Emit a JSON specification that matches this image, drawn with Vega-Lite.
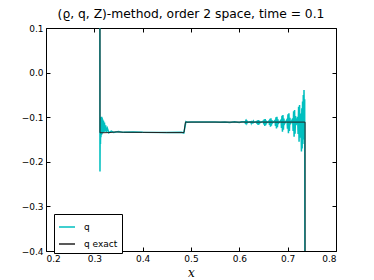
{
  "$schema": "https://vega.github.io/schema/vega-lite/v6.json",
  "width": 290,
  "height": 223,
  "autosize": {"type": "none"},
  "padding": {"left": 46, "top": 28, "right": 38, "bottom": 29},
  "title": {"text": "(ϱ, q, Z)-method, order 2 space, time = 0.1", "font": "DejaVu Sans", "fontSize": 12.3, "fontWeight": "normal", "color": "black", "offset": 4, "anchor": "middle"},
  "config": {
    "view": {"stroke": "black", "strokeWidth": 1},
    "axis": {"domain": false, "grid": false, "tickColor": "black", "tickSize": -4, "labelFont": "DejaVu Sans", "labelFontSize": 9, "labelColor": "black", "titleFont": "DejaVu Serif", "titleFontStyle": "italic", "titleFontWeight": "normal", "titleFontSize": 12, "titleColor": "black"}
  },
  "datasets": {
    "q": [
      {"x": 0.3110, "y": 0.5, "s": "q"},
      {"x": 0.3117, "y": -0.222, "s": "q"},
      {"x": 0.3122, "y": -0.100, "s": "q"},
      {"x": 0.3127, "y": -0.160, "s": "q"},
      {"x": 0.3132, "y": -0.102, "s": "q"},
      {"x": 0.3137, "y": -0.145, "s": "q"},
      {"x": 0.3142, "y": -0.103, "s": "q"},
      {"x": 0.3147, "y": -0.140, "s": "q"},
      {"x": 0.3152, "y": -0.099, "s": "q"},
      {"x": 0.3157, "y": -0.138, "s": "q"},
      {"x": 0.3162, "y": -0.101, "s": "q"},
      {"x": 0.3168, "y": -0.136, "s": "q"},
      {"x": 0.3175, "y": -0.105, "s": "q"},
      {"x": 0.3183, "y": -0.135, "s": "q"},
      {"x": 0.3190, "y": -0.108, "s": "q"},
      {"x": 0.3200, "y": -0.133, "s": "q"},
      {"x": 0.3210, "y": -0.112, "s": "q"},
      {"x": 0.3220, "y": -0.132, "s": "q"},
      {"x": 0.3235, "y": -0.118, "s": "q"},
      {"x": 0.3250, "y": -0.133, "s": "q"},
      {"x": 0.3270, "y": -0.125, "s": "q"},
      {"x": 0.3300, "y": -0.135, "s": "q"},
      {"x": 0.3350, "y": -0.131, "s": "q"},
      {"x": 0.3400, "y": -0.134, "s": "q"},
      {"x": 0.3500, "y": -0.132, "s": "q"},
      {"x": 0.3600, "y": -0.134, "s": "q"},
      {"x": 0.3800, "y": -0.133, "s": "q"},
      {"x": 0.4000, "y": -0.134, "s": "q"},
      {"x": 0.4500, "y": -0.1345, "s": "q"},
      {"x": 0.4800, "y": -0.134, "s": "q"},
      {"x": 0.4850, "y": -0.1355, "s": "q"},
      {"x": 0.4875, "y": -0.122, "s": "q"},
      {"x": 0.4895, "y": -0.110, "s": "q"},
      {"x": 0.4920, "y": -0.1115, "s": "q"},
      {"x": 0.5000, "y": -0.111, "s": "q"},
      {"x": 0.5400, "y": -0.111, "s": "q"},
      {"x": 0.5500, "y": -0.1105, "s": "q"},
      {"x": 0.5600, "y": -0.1115, "s": "q"},
      {"x": 0.5700, "y": -0.1105, "s": "q"},
      {"x": 0.5800, "y": -0.1117, "s": "q"},
      {"x": 0.5900, "y": -0.1103, "s": "q"},
      {"x": 0.6000, "y": -0.1118, "s": "q"},
      {"x": 0.6050, "y": -0.1102, "s": "q"},
      {"x": 0.6110, "y": -0.1104, "s": "q"},
      {"x": 0.6120, "y": -0.1122, "s": "q"},
      {"x": 0.6130, "y": -0.1092, "s": "q"},
      {"x": 0.6140, "y": -0.1130, "s": "q"},
      {"x": 0.6150, "y": -0.1090, "s": "q"},
      {"x": 0.6160, "y": -0.1126, "s": "q"},
      {"x": 0.6170, "y": -0.1100, "s": "q"},
      {"x": 0.6180, "y": -0.1114, "s": "q"},
      {"x": 0.6235, "y": -0.1101, "s": "q"},
      {"x": 0.6245, "y": -0.1131, "s": "q"},
      {"x": 0.6255, "y": -0.1083, "s": "q"},
      {"x": 0.6265, "y": -0.1145, "s": "q"},
      {"x": 0.6275, "y": -0.1080, "s": "q"},
      {"x": 0.6285, "y": -0.1138, "s": "q"},
      {"x": 0.6295, "y": -0.1095, "s": "q"},
      {"x": 0.6305, "y": -0.1117, "s": "q"},
      {"x": 0.6358, "y": -0.1096, "s": "q"},
      {"x": 0.6368, "y": -0.1149, "s": "q"},
      {"x": 0.6378, "y": -0.1068, "s": "q"},
      {"x": 0.6388, "y": -0.1175, "s": "q"},
      {"x": 0.6398, "y": -0.1063, "s": "q"},
      {"x": 0.6408, "y": -0.1162, "s": "q"},
      {"x": 0.6418, "y": -0.1087, "s": "q"},
      {"x": 0.6428, "y": -0.1123, "s": "q"},
      {"x": 0.6496, "y": -0.1089, "s": "q"},
      {"x": 0.6506, "y": -0.1162, "s": "q"},
      {"x": 0.6516, "y": -0.1047, "s": "q"},
      {"x": 0.6526, "y": -0.1197, "s": "q"},
      {"x": 0.6536, "y": -0.1040, "s": "q"},
      {"x": 0.6546, "y": -0.1180, "s": "q"},
      {"x": 0.6556, "y": -0.1075, "s": "q"},
      {"x": 0.6566, "y": -0.1127, "s": "q"},
      {"x": 0.6614, "y": -0.1085, "s": "q"},
      {"x": 0.6624, "y": -0.1172, "s": "q"},
      {"x": 0.6634, "y": -0.1034, "s": "q"},
      {"x": 0.6644, "y": -0.1213, "s": "q"},
      {"x": 0.6654, "y": -0.1025, "s": "q"},
      {"x": 0.6664, "y": -0.1192, "s": "q"},
      {"x": 0.6674, "y": -0.1068, "s": "q"},
      {"x": 0.6684, "y": -0.1131, "s": "q"},
      {"x": 0.6738, "y": -0.1073, "s": "q"},
      {"x": 0.6748, "y": -0.1194, "s": "q"},
      {"x": 0.6758, "y": -0.1000, "s": "q"},
      {"x": 0.6768, "y": -0.1250, "s": "q"},
      {"x": 0.6778, "y": -0.0988, "s": "q"},
      {"x": 0.6788, "y": -0.1222, "s": "q"},
      {"x": 0.6798, "y": -0.1049, "s": "q"},
      {"x": 0.6808, "y": -0.1138, "s": "q"},
      {"x": 0.6862, "y": -0.1062, "s": "q"},
      {"x": 0.6872, "y": -0.1239, "s": "q"},
      {"x": 0.6882, "y": -0.0966, "s": "q"},
      {"x": 0.6892, "y": -0.1325, "s": "q"},
      {"x": 0.6902, "y": -0.0950, "s": "q"},
      {"x": 0.6912, "y": -0.1282, "s": "q"},
      {"x": 0.6922, "y": -0.1030, "s": "q"},
      {"x": 0.6932, "y": -0.1153, "s": "q"},
      {"x": 0.6986, "y": -0.1051, "s": "q"},
      {"x": 0.6996, "y": -0.1260, "s": "q"},
      {"x": 0.7006, "y": -0.0933, "s": "q"},
      {"x": 0.7016, "y": -0.1360, "s": "q"},
      {"x": 0.7026, "y": -0.0913, "s": "q"},
      {"x": 0.7036, "y": -0.1310, "s": "q"},
      {"x": 0.7046, "y": -0.1012, "s": "q"},
      {"x": 0.7056, "y": -0.1160, "s": "q"},
      {"x": 0.7103, "y": -0.1029, "s": "q"},
      {"x": 0.7113, "y": -0.1306, "s": "q"},
      {"x": 0.7123, "y": -0.0866, "s": "q"},
      {"x": 0.7133, "y": -0.1437, "s": "q"},
      {"x": 0.7143, "y": -0.0839, "s": "q"},
      {"x": 0.7153, "y": -0.1372, "s": "q"},
      {"x": 0.7163, "y": -0.0975, "s": "q"},
      {"x": 0.7173, "y": -0.1175, "s": "q"},
      {"x": 0.7206, "y": -0.0995, "s": "q"},
      {"x": 0.7216, "y": -0.1374, "s": "q"},
      {"x": 0.7226, "y": -0.0764, "s": "q"},
      {"x": 0.7236, "y": -0.1550, "s": "q"},
      {"x": 0.7246, "y": -0.0726, "s": "q"},
      {"x": 0.7256, "y": -0.1462, "s": "q"},
      {"x": 0.7266, "y": -0.0918, "s": "q"},
      {"x": 0.7276, "y": -0.1198, "s": "q"},
      {"x": 0.7285, "y": -0.1770, "s": "q"},
      {"x": 0.7293, "y": -0.0800, "s": "q"},
      {"x": 0.7300, "y": -0.1700, "s": "q"},
      {"x": 0.7308, "y": -0.0650, "s": "q"},
      {"x": 0.7315, "y": -0.1600, "s": "q"},
      {"x": 0.7323, "y": -0.0500, "s": "q"},
      {"x": 0.7330, "y": -0.1500, "s": "q"},
      {"x": 0.7338, "y": -0.0390, "s": "q"},
      {"x": 0.7345, "y": -0.1200, "s": "q"},
      {"x": 0.7352, "y": -0.0600, "s": "q"},
      {"x": 0.7358, "y": -0.6, "s": "q"}
    ],
    "exact": [
      {"x": 0.3117, "y": 0.5, "s": "q exact"},
      {"x": 0.3117, "y": -0.135, "s": "q exact"},
      {"x": 0.3300, "y": -0.1345, "s": "q exact"},
      {"x": 0.3450, "y": -0.1330, "s": "q exact"},
      {"x": 0.3600, "y": -0.1337, "s": "q exact"},
      {"x": 0.4000, "y": -0.1340, "s": "q exact"},
      {"x": 0.4500, "y": -0.1345, "s": "q exact"},
      {"x": 0.4855, "y": -0.1345, "s": "q exact"},
      {"x": 0.4885, "y": -0.111, "s": "q exact"},
      {"x": 0.7360, "y": -0.111, "s": "q exact"},
      {"x": 0.7360, "y": -0.6, "s": "q exact"}
    ]
  },
  "layer": [
    {
      "data": {"name": "q"},
      "mark": {"type": "line", "clip": true, "strokeWidth": 1.5},
      "encoding": {
        "x": {"field": "x", "type": "quantitative", "scale": {"domain": [0.2, 0.8], "nice": false, "zero": false}, "axis": {"orient": "bottom", "values": [0.2, 0.3, 0.4, 0.5, 0.6, 0.7, 0.8], "format": ".1f", "title": "x", "labelPadding": 7, "titlePadding": 4}},
        "y": {"field": "y", "type": "quantitative", "scale": {"domain": [-0.4, 0.1], "nice": false, "zero": false}, "axis": {"orient": "left", "values": [-0.4, -0.3, -0.2, -0.1, 0.0, 0.1], "format": ".1f", "title": null, "labelPadding": 7}},
        "order": {"field": "x", "type": "quantitative"},
        "color": {"field": "s", "type": "nominal", "scale": {"domain": ["q", "q exact"], "range": ["#00BFBF", "#222222"]},
          "legend": {"title": null, "orient": "none", "legendX": 8, "legendY": 186, "symbolType": "stroke", "symbolSize": 256, "symbolStrokeWidth": 1.5, "labelFont": "DejaVu Sans", "labelFontSize": 9, "labelColor": "black", "labelOffset": 8, "strokeColor": "black", "padding": 4, "rowPadding": 3, "fillColor": "white"}}
      }
    },
    {
      "data": {"name": "exact"},
      "mark": {"type": "line", "clip": true, "strokeWidth": 1},
      "encoding": {
        "x": {"field": "x", "type": "quantitative", "axis": null},
        "y": {"field": "y", "type": "quantitative", "axis": null},
        "order": {"field": "x", "type": "quantitative"},
        "color": {"field": "s", "type": "nominal"}
      }
    },
    {
      "data": {"name": "exact"},
      "mark": {"type": "line", "opacity": 0, "clip": true},
      "encoding": {
        "x": {"field": "x", "type": "quantitative", "axis": {"orient": "top", "values": [0.2, 0.3, 0.4, 0.5, 0.6, 0.7, 0.8], "labels": false, "title": null}},
        "y": {"field": "y", "type": "quantitative", "axis": {"orient": "right", "values": [-0.4, -0.3, -0.2, -0.1, 0.0, 0.1], "labels": false, "title": null}}
      }
    }
  ],
  "resolve": {"axis": {"x": "independent", "y": "independent"}}
}
